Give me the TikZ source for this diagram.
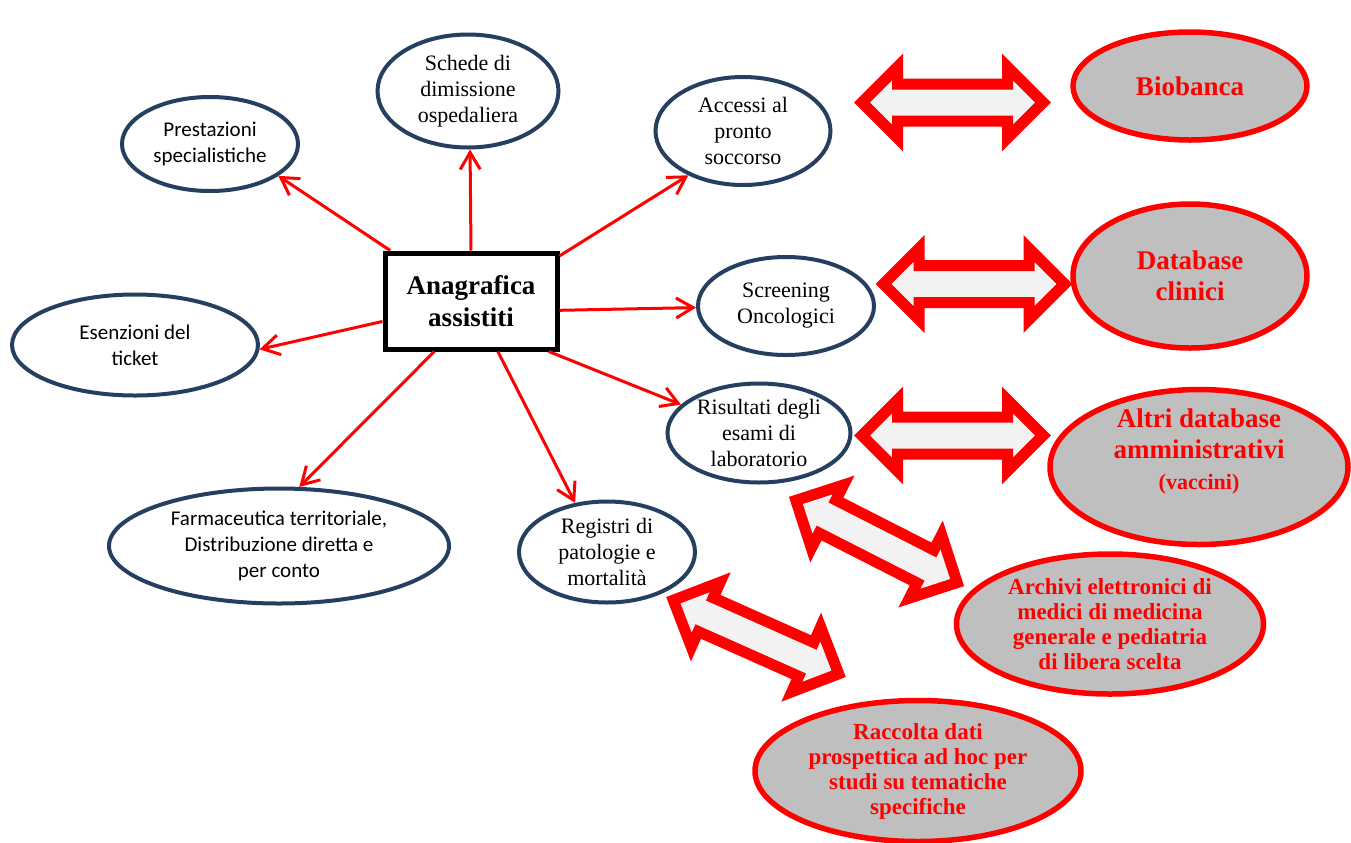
\documentclass[tikz,border=0pt]{standalone}
\usepackage{fontspec}
\setmainfont{Liberation Serif}
\setsansfont{Carlito}
\usetikzlibrary{shapes.geometric,arrows.meta}
\definecolor{navy}{HTML}{243F60}
\definecolor{rred}{HTML}{FF0000}
\definecolor{gfill}{HTML}{BFBFBF}
\definecolor{afill}{HTML}{F2F2F2}
\tikzset{
  x=0.5pt,y=-0.5pt,
  blueell/.style={ellipse,draw=navy,line width=2pt,fill=white,inner sep=0pt,align=center,
     font=\fontsize{11}{13}\selectfont},
  sansell/.style={blueell,font=\sffamily\fontsize{10.5}{13}\selectfont},
  grayell/.style={ellipse,draw=rred,line width=2.75pt,fill=gfill,inner sep=0pt,align=center,
     text=rred,font=\bfseries\fontsize{11.5}{12.5}\selectfont},
  bigell/.style={grayell,font=\bfseries\fontsize{13.5}{15.5}\selectfont},
  redtext/.style={inner sep=0pt,align=center,text=rred,font=\bfseries\fontsize{13.5}{15.5}\selectfont},
  mainbox/.style={rectangle,draw=black,line width=2.5pt,fill=white,inner sep=0pt,align=center,
     minimum width=86pt,minimum height=48pt,font=\bfseries\fontsize{13.5}{16}\selectfont},
  conn/.style={draw=rred,line width=1.5pt,-{Straight Barb[length=8.5pt,width=10pt]}},
  dbl/.style={draw=rred,fill=afill,line width=5.5pt,line join=miter,miter limit=10}
}
\newcommand{\dblarr}[2]{%
  \begin{scope}[shift={#1},rotate=#2]
    \path[dbl] (-90.5,0) -- (-55,35.5) -- (-55,18.5) -- (55,18.5) -- (55,35.5) -- (90.5,0)
      -- (55,-35.5) -- (55,-18.5) -- (-55,-18.5) -- (-55,-35.5) -- cycle;
  \end{scope}}
\begin{document}
\begin{tikzpicture}
\useasboundingbox[fill=white] (0,0) rectangle (1351,842);

% double arrows
\dblarr{(952.5,102.5)}{0}
\dblarr{(974,284)}{0}
\dblarr{(952.5,435.5)}{0}
\dblarr{(876.5,541.5)}{-27}
\dblarr{(756,637)}{-24}

% centre
\node[mainbox] (ana) at (471,301) {Anagrafica\\assistiti};

% blue ellipses
\node[sansell,minimum width=88pt,minimum height=47pt] (pres) at (210,144) {Prestazioni\\specialistiche};
\node[blueell,minimum width=90.5pt,minimum height=56.5pt] (sched) at (468,91) {Schede di\\dimissione\\ospedaliera};
\node[blueell,minimum width=87.5pt,minimum height=54pt] (acc) at (743,131) {Accessi al\\pronto\\soccorso};
\node[sansell,minimum width=123pt,minimum height=50.5pt] (esen) at (135,345) {Esenzioni del\\ticket};
\node[blueell,minimum width=88pt,minimum height=49pt] (scr) at (786,306) {Screening\\Oncologici};
\node[blueell,minimum width=91.5pt,minimum height=49.5pt] (ris) at (759,433) {Risultati degli\\esami di\\laboratorio};
\node[sansell,minimum width=170pt,minimum height=57.5pt] (farm) at (279,546) {Farmaceutica territoriale,\\Distribuzione diretta e\\per conto};
\node[blueell,minimum width=88pt,minimum height=50.5pt] (reg) at (607,552) {Registri di\\patologie e\\mortalità};

% gray ellipses
\node[bigell,minimum width=117pt,minimum height=54pt] (bio) at (1190,86) {Biobanca};
\node[bigell,minimum width=117pt,minimum height=72pt] (dbc) at (1190,276) {Database\\clinici};
\node[grayell,minimum width=149pt,minimum height=77.5pt] (altri) at (1199,467) {};
\node[redtext] (altrit) at (1199,451) {Altri database\\amministrativi\\{\fontsize{11}{14}\selectfont (vaccini)}};
\node[grayell,minimum width=153.5pt,minimum height=70pt] (arch) at (1110,624) {Archivi elettronici di\\medici di medicina\\generale e pediatria\\di libera scelta};
\node[grayell,minimum width=163pt,minimum height=70.5pt] (racc) at (918,771) {Raccolta dati\\prospettica ad hoc per\\studi su tematiche\\specifiche};

% connectors
\path[conn] (ana.148) -- (pres.-25);
\path[conn] (ana.90) -- (sched.-88);
\path[conn] (ana.27) -- (acc.-141);
\path[conn] (ana.-6) -- (scr.181);
\path[conn] (ana.-33) -- (ris.160);
\path[conn] (ana.-62.6) -- (reg.123.7);
\path[conn] (ana.-126.9) -- (farm.71);
\path[conn] (ana.-167) -- (esen.-2);
\end{tikzpicture}
\end{document}
